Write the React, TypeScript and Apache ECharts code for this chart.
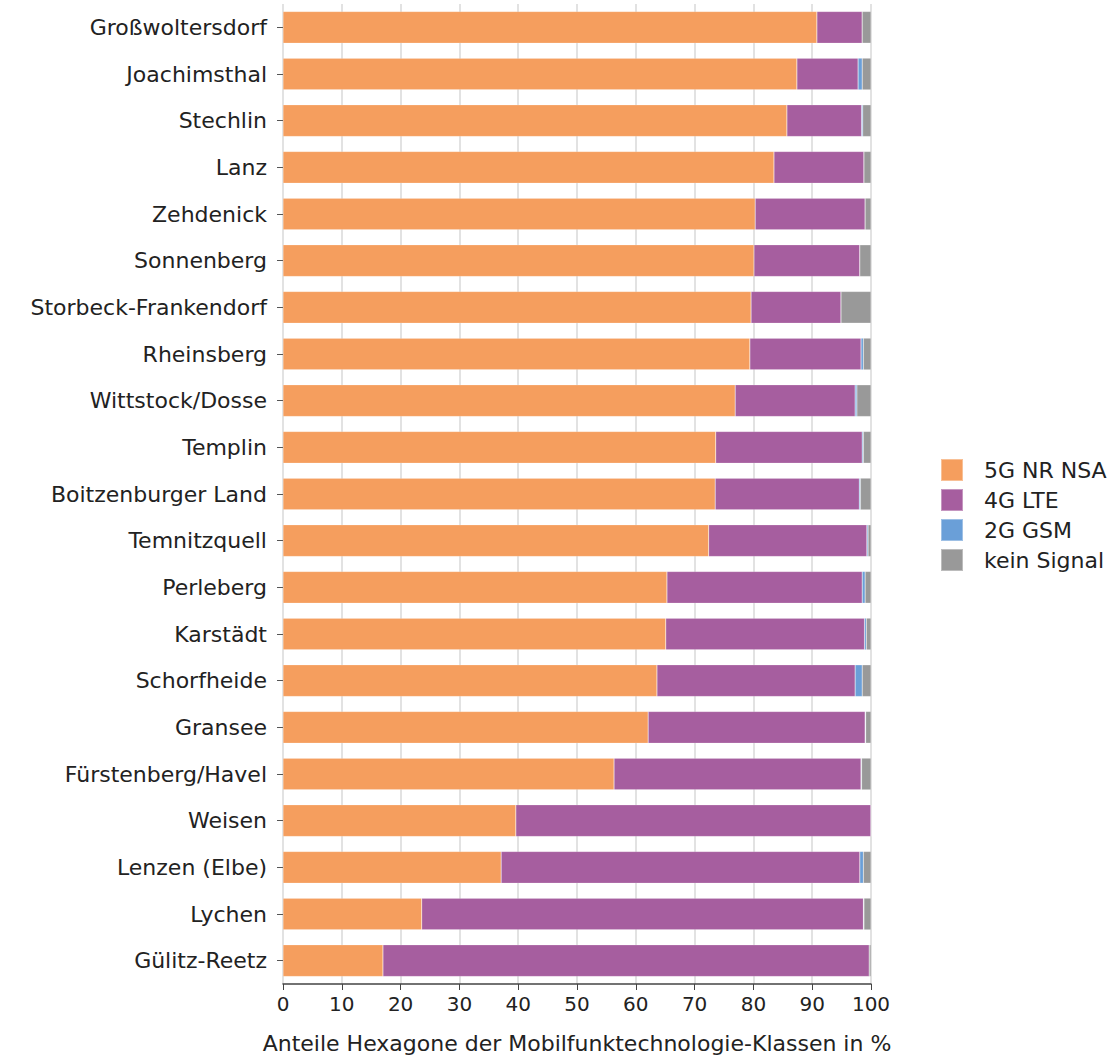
import React, { useEffect, useRef } from "react";
import * as echarts from "echarts";

const categories = [
  "Großwoltersdorf", "Joachimsthal", "Stechlin", "Lanz", "Zehdenick", "Sonnenberg",
  "Storbeck-Frankendorf", "Rheinsberg", "Wittstock/Dosse", "Templin", "Boitzenburger Land",
  "Temnitzquell", "Perleberg", "Karstädt", "Schorfheide", "Gransee", "Fürstenberg/Havel",
  "Weisen", "Lenzen (Elbe)", "Lychen", "Gülitz-Reetz",
];
const nr5g = [90.8, 87.4, 85.7, 83.5, 80.3, 80.1, 79.6, 79.4, 76.9, 73.6, 73.5, 72.4, 65.3, 65.1, 63.6, 62.1, 56.3, 39.6, 37.1, 23.6, 17.0];
const lte4g = [7.7, 10.4, 12.7, 15.3, 18.7, 18.0, 15.3, 18.9, 20.4, 24.9, 24.5, 26.9, 33.2, 33.8, 33.7, 36.9, 42.0, 60.4, 61.0, 75.1, 82.7];
const gsm2g = [0.0, 0.7, 0.2, 0.0, 0.0, 0.0, 0.0, 0.4, 0.3, 0.2, 0.2, 0.2, 0.5, 0.3, 1.2, 0.1, 0.1, 0.0, 0.6, 0.1, 0.0];
const keinSignal = [1.5, 1.5, 1.4, 1.2, 1.0, 1.9, 5.1, 1.3, 2.4, 1.3, 1.8, 0.5, 1.0, 0.8, 1.5, 0.9, 1.6, 0.0, 1.3, 1.2, 0.3];
const xTicks = [0, 10, 20, 30, 40, 50, 60, 70, 80, 90, 100];

const seriesNames = ["5G NR NSA", "4G LTE", "2G GSM", "kein Signal"];
const seriesColors = ["#F59E5E", "#A65E9F", "#6A9FD8", "#999999"];
const seriesData = [nr5g, lte4g, gsm2g, keinSignal];

const FONT = "'DejaVu Sans', sans-serif";

export default function App() {
  const ref = useRef<HTMLDivElement>(null);
  useEffect(() => {
    document.body.style.margin = "0";
    if (!ref.current) return;
    const chart = echarts.init(ref.current, undefined, { renderer: "svg" });
    chart.setOption({
      animation: false,
      textStyle: { fontFamily: FONT },
      grid: { left: 283, right: 249, top: 4, bottom: 75, containLabel: false, outerBoundsMode: "none" },
      legend: {
        orient: "vertical",
        left: 935,
        top: 453,
        itemWidth: 22,
        itemHeight: 22,
        itemGap: 6,
        icon: "rect",
        data: seriesNames,
        textStyle: { fontSize: 22, color: "#222", fontFamily: FONT, padding: [0, 0, 0, 16] },
      },
      xAxis: {
        type: "value",
        min: xTicks[0],
        max: xTicks[xTicks.length - 1],
        interval: 10,
        name: "Anteile Hexagone der Mobilfunktechnologie-Klassen in %",
        nameLocation: "middle",
        nameGap: 48,
        nameTextStyle: { fontSize: 22, color: "#222", fontFamily: FONT },
        axisLine: { show: true, lineStyle: { color: "#444", width: 1.5 } },
        axisTick: { show: true, length: 6, lineStyle: { color: "#444" } },
        axisLabel: { fontSize: 20, color: "#222", margin: 10, fontFamily: FONT },
        splitLine: { show: true, lineStyle: { color: "#d9d9d9", width: 1.5 } },
      },
      yAxis: {
        type: "category",
        data: categories,
        inverse: true,
        axisLine: { show: false },
        axisTick: { show: true, length: 6, alignWithLabel: true, lineStyle: { color: "#555" } },
        axisLabel: { fontSize: 22, color: "#222", margin: 16, fontFamily: FONT },
        splitLine: { show: false },
      },
      series: seriesNames.map((name, i) => ({
        name,
        type: "bar",
        stack: "total",
        barWidth: "68%",
        data: seriesData[i],
        itemStyle: { color: seriesColors[i], borderColor: "rgba(255,255,255,0.35)", borderWidth: 0.5 },
      })),
    });
    return () => chart.dispose();
  }, []);
  return <div ref={ref} style={{ width: 1120, height: 1059 }} />;
}
